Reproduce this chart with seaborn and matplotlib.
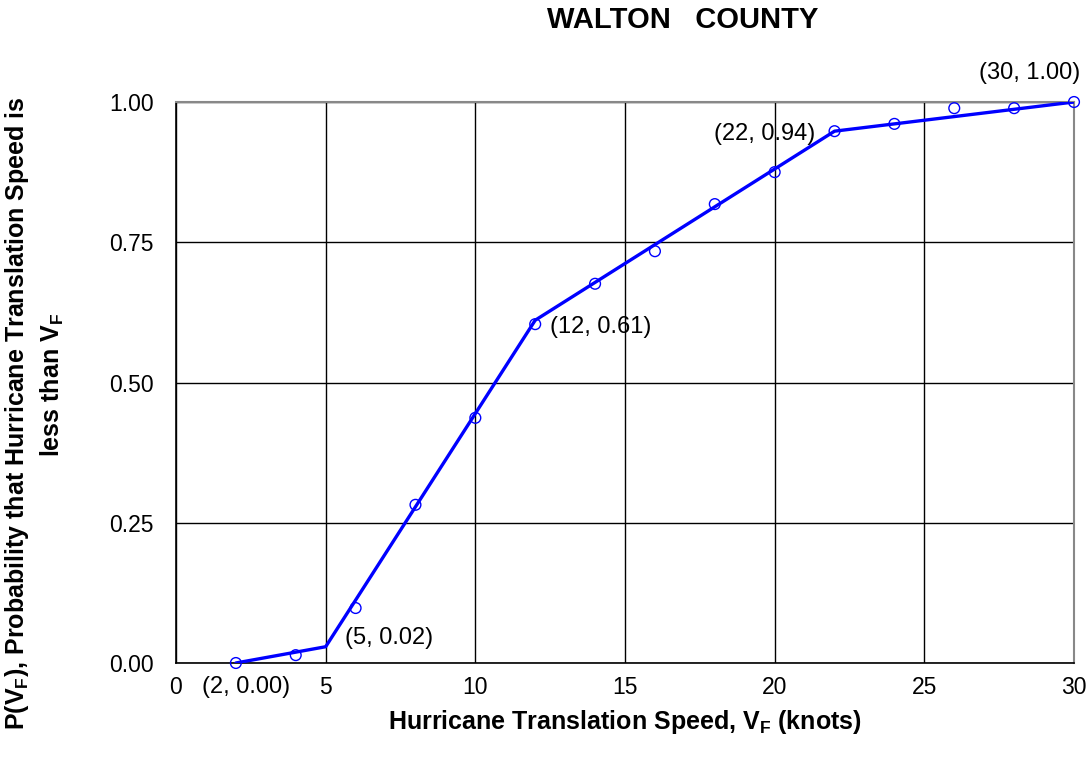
import matplotlib
matplotlib.use("Agg")
import matplotlib.pyplot as plt
import seaborn as sns
import pandas as pd

# Data
obs_speed = [2, 4, 6, 8, 10, 12, 14, 16, 18, 20, 22, 24, 26, 28, 30]
obs_prob = [0.00, 0.014, 0.098, 0.282, 0.437, 0.604, 0.676, 0.734, 0.818, 0.875, 0.948, 0.961, 0.989, 0.989, 1.00]
fit_speed = [2, 5, 12, 22, 30]
fit_prob = [0.00, 0.029, 0.611, 0.948, 1.00]
label_texts = ["(2, 0.00)", "(5, 0.02)", "(12, 0.61)", "(22, 0.94)", "(30, 1.00)"]
x_ticks = [0, 5, 10, 15, 20, 25, 30]
y_ticks = [0.00, 0.25, 0.50, 0.75, 1.00]
y_tick_labels = ["0.00", "0.25", "0.50", "0.75", "1.00"]

sns.set_style("white")
plt.rcParams["font.family"] = ["Liberation Sans", "DejaVu Sans"]
plt.rcParams["text.color"] = "black"
plt.rcParams["axes.labelcolor"] = "black"

fig = plt.figure(figsize=(10.91, 7.61), dpi=100)
ax = fig.add_axes([176 / 1091, 1 - 663 / 761, (1074 - 176) / 1091, (663 - 102) / 761])

obs = pd.DataFrame({"speed": obs_speed, "prob": obs_prob})
fit = pd.DataFrame({"speed": fit_speed, "prob": fit_prob})

sns.lineplot(data=fit, x="speed", y="prob", ax=ax, color="#0000ff", linewidth=2.4, zorder=3)
sns.scatterplot(data=obs, x="speed", y="prob", ax=ax, marker="o", s=60,
                facecolor="none", edgecolor="#0000ff", linewidth=1.0, zorder=4, clip_on=False)

ax.set_xlim(0, 30)
ax.set_ylim(0, 1.0)
ax.set_xticks(x_ticks)
ax.set_yticks(y_ticks)
ax.set_yticklabels(y_tick_labels)
ax.tick_params(axis="both", labelsize=16.5, colors="black", labelcolor="black",
               length=6, width=1.0, direction="out")
ax.tick_params(axis="x", pad=3)
ax.tick_params(axis="y", pad=10)
ax.grid(True, color="black", linewidth=1.0)
ax.set_axisbelow(True)
for side in ["left", "bottom"]:
    ax.spines[side].set_color("black")
    ax.spines[side].set_linewidth(1.2)
for side in ["top", "right"]:
    ax.spines[side].set_color("#888888")
    ax.spines[side].set_linewidth(1.5)

ax.set_xlabel(r"Hurricane Translation Speed, V$_\mathregular{F}$ (knots)", fontsize=18,
              fontweight="bold", labelpad=7)
ax.set_ylabel("P(V$_\\mathregular{F}$), Probability that Hurricane Translation Speed is",
              fontsize=18, fontweight="bold")
ax.yaxis.set_label_coords((31 - 176) / 898, (663 - 413) / 561)
ax.text((66 - 176) / 898, (663 - 385) / 561, "less than V$_\\mathregular{F}$",
        transform=ax.transAxes, rotation=90, ha="right", va="center",
        fontsize=18, fontweight="bold")

offsets = [(10, -24, "center"), (19, 9, "left"), (15, -7, "left"), (-19, -3, "right"), (-44, 29, "center")]
for (x, y), txt, (dx, dy, ha) in zip(zip(fit_speed, fit_prob), label_texts, offsets):
    ax.annotate(txt, xy=(x, y), xytext=(dx, dy), textcoords="offset pixels",
                ha=ha, va="center", fontsize=17, annotation_clip=False)

fig.text(683 / 1091, 1 - 20 / 761, "WALTON   COUNTY", ha="center", va="center",
         fontsize=21, fontweight="bold")

fig.savefig("out.png", dpi=100)
